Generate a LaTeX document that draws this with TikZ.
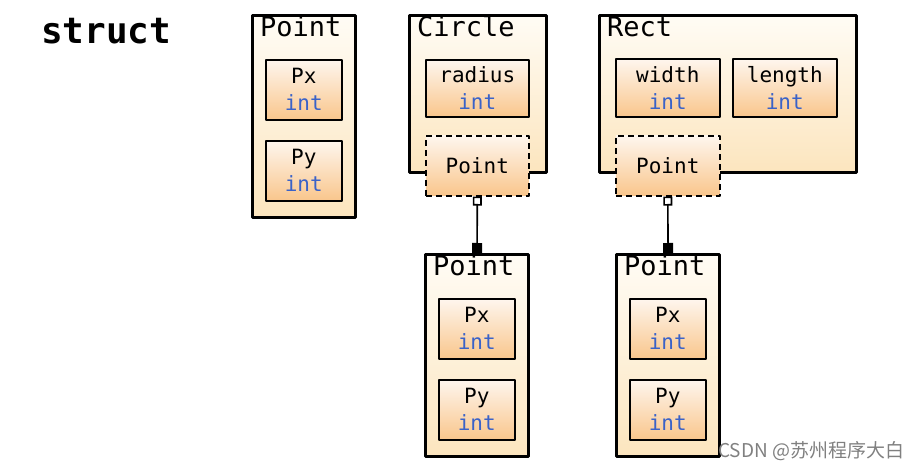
\documentclass[tikz,border=0pt]{standalone}
\usepackage{fontspec}
\setmonofont{DejaVu Sans Mono}
\newfontfamily\cjk{Noto Sans CJK SC}
\usetikzlibrary{arrows.meta}
\definecolor{boxtop}{HTML}{FFFCF5}
\definecolor{boxbot}{HTML}{FCE5BE}
\definecolor{fldtop}{HTML}{FEF6EE}
\definecolor{fldbot}{HTML}{F9C68C}
\definecolor{intblue}{HTML}{3A62C8}
\begin{document}
\begin{tikzpicture}[x=1pt,y=-1pt,line join=round,
	structbox/.style={draw,line width=3.2pt,top color=boxtop,bottom color=boxbot,anchor=north west,inner sep=0pt},
	fieldbox/.style={draw,line width=1.6pt,top color=fldtop,bottom color=fldbot,anchor=north west,inner sep=0pt,
		align=center,font=\ttfamily\fontsize{21}{27}\selectfont},
	embedbox/.style={fieldbox,dashed,dash pattern=on 6pt off 4pt},
	title/.style={anchor=base west,inner sep=0pt,font=\ttfamily\fontsize{27}{27}\selectfont},
	link/.style={line width=1.6pt,{Square[open,fill=white,length=9pt,width=9pt]}-{Square[length=10pt,width=10pt]}}]
	\useasboundingbox (0,0) rectangle (922,470);
	\node[anchor=base west,inner sep=0pt,font=\ttfamily\bfseries\fontsize{36}{36}\selectfont] (kw) at (41,44) {struct};
	\foreach \n/\x/\y in {1/251/14,2/424/253,3/615/253}{
		\node[structbox,minimum width=103pt,minimum height=202pt] (pt\n) at (\x,\y) {};
		\node[title] (ptt\n) at ([xshift=9pt,yshift=-23pt]pt\n.north west) {Point};
		\node[fieldbox,minimum width=76pt,minimum height=60pt] (px\n) at (\x+14,\y+45) {Px\\\textcolor{intblue}{int}};
		\node[fieldbox,minimum width=76pt,minimum height=60pt] (py\n) at (\x+14,\y+126) {Py\\\textcolor{intblue}{int}};
	}
	\node[structbox,minimum width=137pt,minimum height=157pt] (circ) at (408,14) {};
	\node[title] (circt) at ([xshift=9pt,yshift=-23pt]circ.north west) {Circle};
	\node[fieldbox,minimum width=103pt,minimum height=57pt] (rad) at (425,59) {radius\\\textcolor{intblue}{int}};
	\node[embedbox,minimum width=103pt,minimum height=60pt] (cpt) at (425,135) {Point};
	\node[structbox,minimum width=257pt,minimum height=157pt] (rect) at (598,14) {};
	\node[title] (rectt) at ([xshift=9pt,yshift=-23pt]rect.north west) {Rect};
	\node[fieldbox,minimum width=104pt,minimum height=58pt] (wid) at (615,58) {width\\\textcolor{intblue}{int}};
	\node[fieldbox,minimum width=104pt,minimum height=58pt] (len) at (732,58) {length\\\textcolor{intblue}{int}};
	\node[embedbox,minimum width=104pt,minimum height=60pt] (rpt) at (615,135) {Point};
	\draw[link] (cpt.south) -- (pt2.north);
	\draw[link] (rpt.south) -- (pt3.north);
	\node[anchor=base west,inner sep=0pt,text=gray,font=\cjk\fontsize{19}{19}\selectfont] (mark) at (718,458) {CSDN @苏州程序大白};
\end{tikzpicture}
\end{document}
